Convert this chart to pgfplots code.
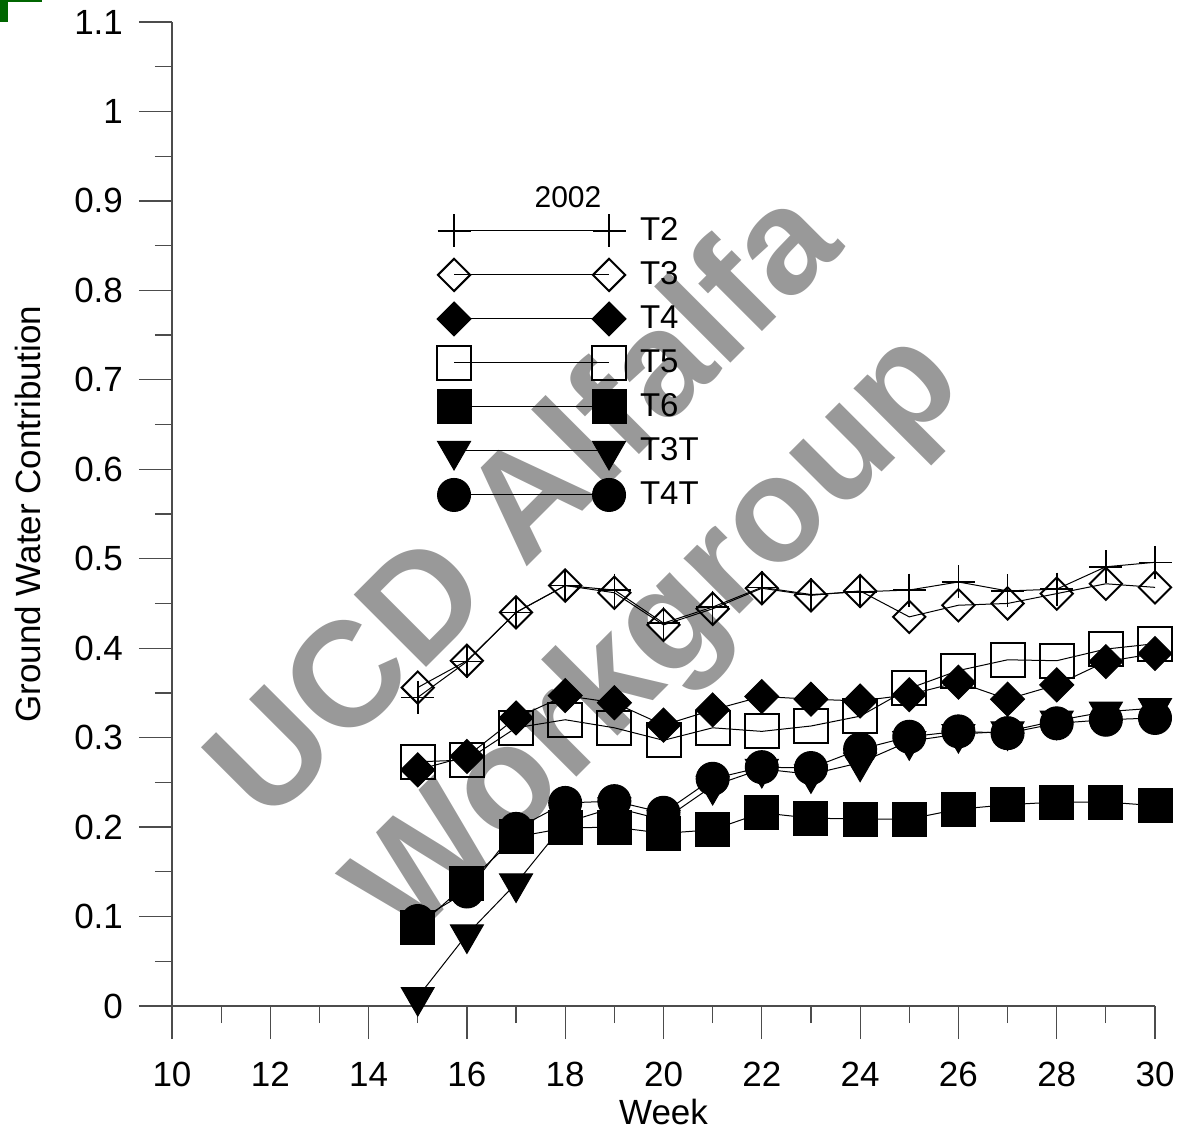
\documentclass[border=0pt]{standalone}
\usepackage{fontspec}
\setmainfont{Liberation Sans}
\usepackage{pgfplots}
\pgfplotsset{compat=1.18}
\begin{document}
\begin{tikzpicture}
\path[use as bounding box] (0,0) rectangle (590.5pt,567.5pt);
\fill[green!40!black] (0,566.5pt) rectangle (21pt,567.5pt);
\fill[green!40!black] (0,556.5pt) rectangle (4pt,567.5pt);
\node[rotate=45, text=black!40, font=\fontsize{74.4}{92}\selectfont\bfseries, align=center, inner sep=0pt] at (297.5pt,280pt) {UCD Alfalfa\\Workgroup};
\begin{axis}[
  at={(86pt,64.5pt)}, anchor=south west,
  scale only axis, width=491.5pt, height=492pt,
  xmin=10, xmax=30, ymin=0, ymax=1.1,
  clip=false,
  axis lines*=left,
  axis line style={black!70, line width=0.8pt},
  xtick={10,12,14,16,18,20,22,24,26,28,30},
  ytick={0,0.1,0.2,0.3,0.4,0.5,0.6,0.7,0.8,0.9,1,1.1},
  minor x tick num=1, minor y tick num=1,
  tick align=outside,
  major tick length=16.5pt, minor tick length=8.5pt,
  tick style={black!70, line width=0.6pt},
  /pgf/number format/assume math mode=true,
  tick label style={font=\fontsize{17.5}{21}\selectfont},
  xticklabel style={yshift=-8pt},
  yticklabel style={xshift=-4.5pt},
  label style={font=\fontsize{17.5}{21}\selectfont},
  xlabel={Week}, ylabel={Ground Water Contribution},
  xlabel style={at={(axis description cs:0.5,-0.1077)}, anchor=center},
  ylabel style={at={(axis description cs:-0.1465,0.5)}, anchor=center},
  every axis plot/.append style={black, line width=0.5pt},
  legend image code/.code={
    \path[draw=none, fill=none] (-9pt,-11pt) rectangle (86.5pt,11pt);
    \draw plot coordinates {(0pt,0pt) (77.5pt,0pt)};
  },
  legend cell align=left,
  legend style={draw=none, fill=none, at={(rel axis cs:0.2686,0.8100)}, anchor=north west,
    inner sep=0pt, outer sep=0pt, row sep=0pt, column sep=6.5pt,
    nodes={scale=1, inner sep=0pt, font=\fontsize{16.5}{20}\selectfont}},
]
\addplot[mark=+, mark size=8.25pt, mark options={solid, line width=0.8pt}] coordinates {
(15,0.345) (16,0.385) (17,0.44) (18,0.47) (19,0.465) (20,0.428) (21,0.446) (22,0.468)
(23,0.46) (24,0.463) (25,0.465) (26,0.474) (27,0.464) (28,0.466) (29,0.491) (30,0.496)};
\addlegendentry{T2}
\addplot[mark=square, mark size=5.7pt, mark options={solid, rotate=45, line width=1pt}] coordinates {
(15,0.356) (16,0.386) (17,0.44) (18,0.47) (19,0.462) (20,0.426) (21,0.444) (22,0.467)
(23,0.459) (24,0.464) (25,0.435) (26,0.448) (27,0.450) (28,0.461) (29,0.472) (30,0.468)};
\addlegendentry{T3}
\addplot[mark=square*, mark size=6pt, mark options={solid, rotate=45, line width=0.5pt}] coordinates {
(15,0.264) (16,0.279) (17,0.322) (18,0.347) (19,0.339) (20,0.314) (21,0.331) (22,0.346)
(23,0.343) (24,0.341) (25,0.348) (26,0.362) (27,0.343) (28,0.359) (29,0.385) (30,0.394)};
\addlegendentry{T4}
\addplot[mark=square, mark size=8.5pt, mark options={solid, line width=1pt}] coordinates {
(15,0.273) (16,0.275) (17,0.311) (18,0.320) (19,0.311) (20,0.297) (21,0.311) (22,0.307)
(23,0.313) (24,0.324) (25,0.355) (26,0.375) (27,0.387) (28,0.386) (29,0.399) (30,0.405)};
\addlegendentry{T5}
\addplot[mark=square*, mark size=8.5pt, mark options={solid, line width=0.5pt}] coordinates {
(15,0.088) (16,0.137) (17,0.189) (18,0.199) (19,0.200) (20,0.193) (21,0.197) (22,0.216)
(23,0.210) (24,0.209) (25,0.209) (26,0.220) (27,0.225) (28,0.228) (29,0.228) (30,0.224)};
\addlegendentry{T6}
\addplot[mark=triangle*, mark size=9.5pt, mark options={solid, rotate=180, line width=0.5pt}] coordinates {
(15,0.01) (16,0.08) (17,0.137) (18,0.205) (19,0.222) (20,0.208) (21,0.246) (22,0.265)
(23,0.259) (24,0.272) (25,0.296) (26,0.304) (27,0.307) (28,0.319) (29,0.329) (30,0.333)};
\addlegendentry{T3T}
\addplot[mark=*, mark size=8.25pt, mark options={solid, line width=0.5pt}] coordinates {
(15,0.095) (16,0.128) (17,0.198) (18,0.227) (19,0.229) (20,0.216) (21,0.254) (22,0.267)
(23,0.266) (24,0.287) (25,0.301) (26,0.307) (27,0.305) (28,0.316) (29,0.320) (30,0.322)};
\addlegendentry{T4T}
\node[font=\fontsize{15}{18}\selectfont] at (rel axis cs:0.4028,0.8222) {2002};
\end{axis}
\end{tikzpicture}
\end{document}
